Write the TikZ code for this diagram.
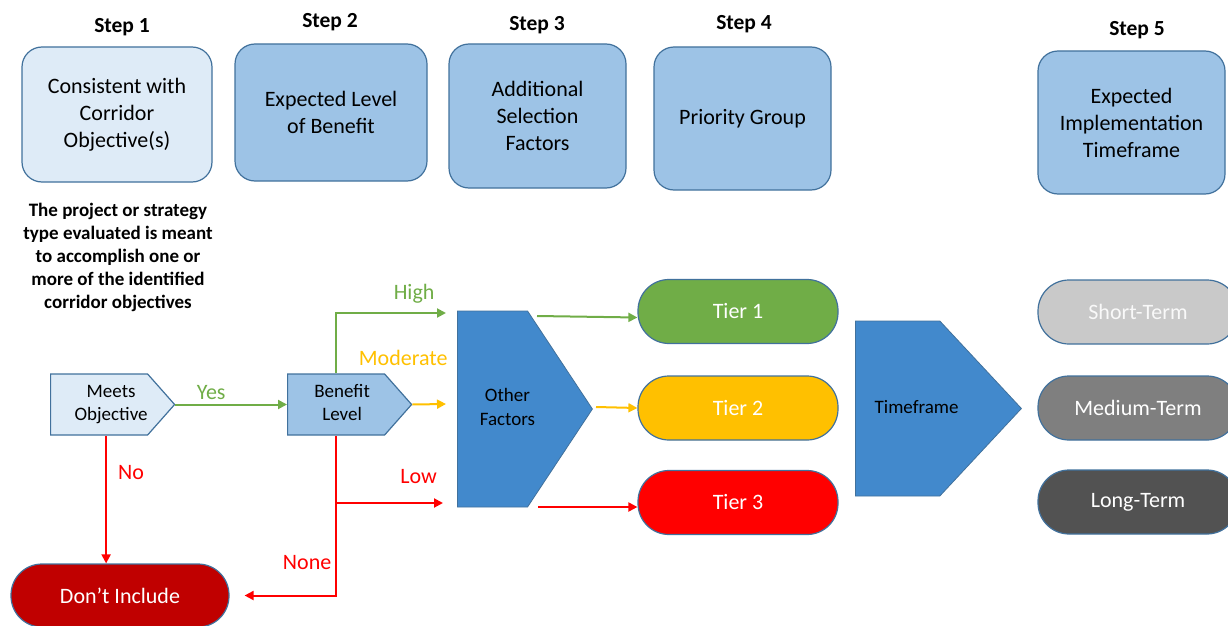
\documentclass[tikz,border=0pt]{standalone}
\usepackage{fontspec}
\setmainfont{Carlito}
\usetikzlibrary{shapes.symbols, arrows.meta, calc}
\definecolor{boxline}{RGB}{65,113,156}
\definecolor{palefill}{RGB}{222,235,247}
\definecolor{stepfill}{RGB}{157,195,230}
\definecolor{shapefill}{RGB}{66,137,204}
\definecolor{tiergreen}{RGB}{112,173,71}
\definecolor{tieryellow}{RGB}{255,192,0}
\definecolor{tierred}{RGB}{255,0,0}
\definecolor{dropred}{RGB}{192,0,0}
\definecolor{shortgray}{RGB}{201,201,201}
\definecolor{mediumgray}{RGB}{127,127,127}
\definecolor{longgray}{RGB}{82,82,82}
% Text im Pfeilkoerper etwas nach rechts ruecken
\newcommand{\nudgetext}[2]{\makebox[0pt]{\hspace{#1}\begin{tabular}{@{}c@{}}#2\end{tabular}}}

\begin{document}
\begin{tikzpicture}[
  x=1pt, y=-1pt,
  steplabel/.style={font=\fontsize{21.5}{25}\selectfont\bfseries},
  stepbox/.style={rectangle, draw=boxline, line width=1.2pt, fill=stepfill, rounded corners=20pt, align=center, font=\fontsize{22}{27}\selectfont, inner sep=0pt},
  decision/.style={signal, signal to=east, draw=boxline, line width=1.2pt, fill=stepfill, minimum width=124pt, minimum height=61pt, signal pointer angle=97, font=\fontsize{19}{23}\selectfont, inner sep=0pt},
  selector/.style={signal, signal to=east, draw=boxline, line width=0.8pt, fill=shapefill, font=\fontsize{19}{24}\selectfont, inner sep=0pt},
  pill/.style={rectangle, draw=boxline, line width=1.2pt, rounded corners=31pt, minimum width=200pt, minimum height=64pt, text=white, font=\fontsize{22}{26}\selectfont},
  branch/.style={line width=2pt, -{Triangle[length=9pt, width=9pt]}},
  branchlabel/.style={font=\fontsize{22}{26}\selectfont}
]
\useasboundingbox (0,0) rectangle (1228,626);

% --- Schritte oben ---
\node[steplabel] (step1) at (122,27) {Step 1};
\node[steplabel] (step2) at (330,22) {Step 2};
\node[steplabel] (step3) at (537,25) {Step 3};
\node[steplabel] (step4) at (744,24) {Step 4};
\node[steplabel] (step5) at (1137,30) {Step 5};

\node[stepbox, fill=palefill, minimum width=190pt, minimum height=135pt] (consistent) at (117,114.5) {Consistent with\\Corridor\\Objective(s)};
\node[stepbox, minimum width=192pt, minimum height=137pt] (benefitbox) at (331,112.5) {Expected Level\\of Benefit};
\node[stepbox, minimum width=177pt, minimum height=144pt] (selection) at (537.5,116) {Additional\\Selection\\Factors};
\node[stepbox, minimum width=177pt, minimum height=143pt] (priority) at (742.5,118.5) {Priority Group};
\node[stepbox, minimum width=187pt, minimum height=143pt] (implement) at (1131.5,122.5) {Expected\\Implementation\\Timeframe};

\node[align=center, font=\fontsize{19}{23}\selectfont\bfseries] (explain) at (118,257)
  {The project or strategy\\type evaluated is meant\\to accomplish one or\\more of the identified\\corridor objectives};

% --- Entscheidungen ---
\node[decision, fill=palefill, anchor=west] (meets) at (50,404.5) {\nudgetext{24pt}{Meets\\Objective}};
\node[decision, anchor=west] (benefit) at (287,404.5) {\nudgetext{12pt}{Benefit\\Level}};
\node[selector, minimum width=135pt, minimum height=196pt, signal pointer angle=113, anchor=west] (other) at (457,409) {\nudgetext{30pt}{Other\\Factors}};
\node[selector, minimum width=166pt, minimum height=175pt, signal pointer angle=94, anchor=west] (timeframe) at (855,408.5) {\nudgetext{38pt}{Timeframe}};

% --- Ergebnisse ---
\node[pill, fill=dropred, minimum width=218pt, minimum height=63pt] (dont) at (120,595.5) {Don’t Include};
\node[pill, fill=tiergreen] (tier1) at (738,311.5) {Tier 1};
\node[pill, fill=tieryellow] (tier2) at (738,408) {Tier 2};
\node[pill, fill=tierred] (tier3) at (738,502.5) {Tier 3};
\node[pill, fill=shortgray, text=white!95!gray] (short) at (1138,312) {Short-Term};
\node[pill, fill=mediumgray] (medium) at (1138,408) {Medium-Term};
\node[pill, fill=longgray] (long) at (1138,502) {Long-Term};

% Hilfspunkte an den Pfeilenden
\coordinate (highin) at (446,313);
\coordinate (modin) at (446,404);
\coordinate (lowin) at (443,503);
\coordinate (otherhigh) at (537,316);
\coordinate (othermod) at (596,407);
\coordinate (otherlow) at (538,507);

% Verbindungen
\draw[branch, tiergreen] (meets.east) -- node[branchlabel, xshift=-20pt, yshift=12pt] {Yes} (benefit.west);
\draw[branch, tierred] ([xshift=7pt]meets.south) -- node[branchlabel, xshift=25pt, yshift=27pt] {No} ([xshift=7pt]meets.south |- dont.north);
\draw[branch, tiergreen] (benefit.north) |- node[branchlabel, xshift=78pt, yshift=19pt] {High} (highin);
\draw[branch, tieryellow] (benefit.east) -- node[branchlabel, xshift=-26pt, yshift=46pt] {Moderate} (modin);
\draw[branch, tierred] (benefit.south) |- node[branchlabel, xshift=-29pt, yshift=33pt] {None} ([xshift=15pt]dont.east);
\draw[branch, tierred] (benefit.south |- lowin) -- node[branchlabel, xshift=29pt, yshift=26pt] {Low} (lowin);

\draw[branch, tiergreen] (otherhigh) -- ([yshift=-6pt]tier1.west);
\draw[branch, tieryellow] (othermod) -- (tier2.west);
\draw[branch, tierred] (otherlow) -- ([yshift=-4.5pt]tier3.west);
\end{tikzpicture}
\end{document}
